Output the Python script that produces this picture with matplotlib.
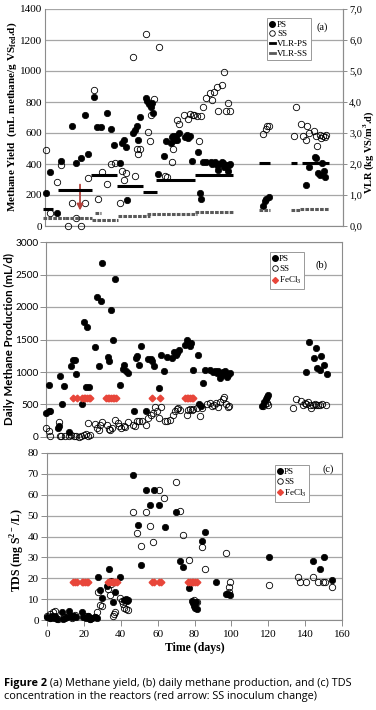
import matplotlib
matplotlib.use("Agg")
import matplotlib.pyplot as plt
from matplotlib.lines import Line2D
from matplotlib.transforms import Bbox, TransformedBbox

plt.rcParams['mathtext.fontset'] = 'custom'
plt.rcParams['mathtext.rm'] = 'Liberation Serif'
plt.rcParams['mathtext.bf'] = 'Liberation Serif:bold'

SERIF = 'Liberation Serif'
SANS = 'Lato'

#
# Panel (a): methane yield (mL methane/g VS fed.d) and VLR
a_ps_day = [0.5, 2.5, 6.3, 8.4, 14.3, 16.4, 19.3, 21.3, 23.2, 26.1, 27.9, 30.0, 33.3, 35.4, 37.2,
            40.2, 41.3, 42.4, 43.4, 44.2, 47.4, 48.5, 49.2, 50.2, 51.0, 54.0, 54.9, 55.8, 56.7, 57.2,
            58.1, 60.8, 63.8, 64.9, 67.6, 68.1, 68.8, 69.7, 70.6, 71.0, 72.1, 75.3, 76.0, 76.9, 77.8,
            78.9, 81.9, 83.0, 84.0, 84.9, 86.4, 88.9, 89.8, 91.2, 92.1, 92.8, 93.5, 94.8, 95.7, 96.2,
            97.4, 98.0, 98.9, 99.4, 116.8, 118.0, 118.9, 120.2, 140.4, 141.6, 144.8, 145.7, 146.6,
            147.9, 148.9, 149.7, 150.2]
a_ps_val = [213, 346, 84, 417, 644, 406, 440, 715, 462, 833, 636, 636, 730, 625, 522,
            404, 535, 558, 511, 165, 603, 618, 642, 558, 704, 827, 805, 784, 769, 794,
            728, 335, 451, 550, 537, 575, 580, 558, 580, 556, 601, 575, 584, 569, 580,
            417, 480, 215, 176, 412, 410, 412, 401, 412, 393, 361, 401, 412, 408, 380,
            395, 356, 393, 397, 129, 159, 176, 187, 264, 382, 444, 438, 344,
            326, 408, 354, 318]

a_ss_day = [0.5, 2.7, 6.3, 8.4, 12.3, 14.3, 16.4, 19.3, 21.5, 23.2, 26.1, 28.3, 30.4, 33.3, 35.4,
            37.5, 40.2, 41.3, 42.4, 43.4, 47.2, 48.3, 49.2, 50.2, 51.1, 54.0, 55.1, 56.3, 57.0, 58.3,
            61.0, 64.4, 65.4, 68.1, 68.8, 70.8, 71.7, 74.6, 76.9, 77.8, 79.2, 80.1, 81.4, 82.8, 83.7,
            84.6, 86.2, 88.5, 89.8, 90.8, 92.1, 93.0, 95.1, 96.0, 97.4, 98.0, 99.2, 116.8, 118.4, 119.4,
            120.3, 133.6, 134.6, 137.7, 138.6, 140.0, 140.7, 141.8, 144.3, 145.7, 146.3, 147.5, 148.4,
            149.3, 150.2, 150.7]
a_ss_val = [490, 86, 283, 391, 0, 146, 49, 0, 146, 309, 880, 172, 350, 268, 401,
            406, 148, 358, 298, 339, 1089, 320, 496, 462, 500, 1241, 605, 550, 715, 820,
            1155, 322, 316, 412, 494, 683, 659, 713, 693, 721, 719, 719, 708, 547, 708,
            766, 824, 855, 816, 863, 897, 745, 910, 992, 745, 792, 741, 595, 625, 648,
            648, 580, 766, 655, 580, 558, 648, 597, 612, 580, 515, 584, 565,
            580, 575, 584]

# VLR steps (kg VS/m3.d): start day, end day, level
vlr_ps_start = [-1, 7, 24.5, 38.8, 52.7, 59.4, 80.5, 115, 132, 138]
vlr_ps_end = [4.5, 25, 38.8, 52.7, 59.9, 80.8, 101, 121, 135.3, 152.5]
vlr_ps_val = [0.56, 1.15, 1.63, 1.29, 1.10, 1.49, 1.63, 2.04, 2.04, 2.04]

vlr_ss_start = [-1, 10.7, 25, 26.8, 39, 54.5, 80.5, 115, 132, 137]
vlr_ss_end = [10.7, 25, 39, 29.9, 56.3, 81.4, 100.7, 121, 137, 152.5]
vlr_ss_val = [0.25, 0.27, 0.19, 0.43, 0.32, 0.40, 0.45, 0.50, 0.50, 0.56]

arrow_day = 18.8

#
# Panel (b): daily methane production (mL/d)
b_ps_day = [0.2, 1.4, 2.3, 1.4, 6.3, 6.8, 7.4, 8.6, 9.5, 12.6, 13.5, 14.4, 15.5, 16.2, 19.6,
            20.3, 21.4, 23.2, 22.3, 26.3, 27.5, 28.4, 29.5, 30.4, 33.3, 34.2, 35.2, 36.1, 37.4, 40.1,
            41.4, 42.3, 43.2, 44.1, 47.3, 48.5, 49.4, 50.3, 51.2, 54.1, 55.4, 56.6, 57.5, 58.4, 61.1,
            62.2, 64.0, 65.3, 68.1, 69.2, 70.3, 71.0, 72.1, 75.2, 76.1, 76.9, 77.8, 78.4, 79.3, 82.2,
            82.9, 83.8, 85.0, 85.9, 88.6, 90.4, 91.3, 92.2, 93.1, 94.0, 94.9, 95.8, 96.7, 97.6, 98.5,
            99.4, 116.9, 117.8, 118.7, 119.6, 120.1, 140.8, 142.0, 144.9, 145.8, 146.7, 148.0, 148.9,
            150.1, 151.9]
b_ps_val = [369, 395, 405, 795, 138, 164, 944, 508, 779, 72, 1087, 1179, 1179, 969, 513,
            1764, 764, 764, 1687, 1385, 2154, 1097, 2092, 2677, 1231, 1164, 1949, 1487, 2431, 795,
            1046, 1103, 1010, 985, 395, 1215, 1251, 1103, 1405, 405, 1205, 1205, 1164, 1097, 754,
            1267, 1010, 1231, 1215, 1303, 1267, 1292, 1344, 1420, 1487, 1446, 1395, 1446, 1036, 1256,
            513, 470, 831, 1026, 1030, 1000, 1015, 990, 1020, 900, 960, 1000, 1010, 930, 960,
            990, 472, 538, 585, 615, 651, 995, 1467, 1210, 1369, 1062, 1036, 1251,
            1113, 969]

b_ss_day = [0.2, 1.4, 2.3, 6.8, 7.7, 8.3, 10.4, 12.4, 13.7, 14.9, 16.4, 17.6, 18.9, 20.3, 21.4,
            22.5, 23.6, 22.6, 26.3, 27.5, 28.4, 29.3, 30.2, 32.9, 33.8, 34.7, 35.6, 37.4, 38.7, 39.7,
            40.5, 41.9, 42.8, 44.1, 46.9, 48.1, 49.4, 50.5, 51.8, 54.1, 55.4, 56.6, 58.1, 59.0, 60.2,
            61.3, 62.0, 64.4, 65.6, 67.1, 68.5, 69.8, 70.7, 71.6, 72.5, 76.1, 76.9, 77.9, 78.8, 79.7,
            81.4, 83.2, 84.5, 87.2, 88.6, 89.5, 90.8, 91.9, 93.1, 94.0, 95.5, 96.4, 97.3, 98.2, 99.1,
            117.4, 118.3, 119.2, 120.1, 133.6, 135.0, 137.7, 139.0, 139.9, 140.8, 141.7, 142.6, 143.5,
            144.4, 145.3, 146.2, 147.1, 148.0, 149.4, 151.6]
b_ss_val = [133, 92, 10, 226, 10, 10, 10, 20, 30, 20, 15, 5, 10, 30, 50,
            20, 30, 215, 205, 138, 113, 190, 226, 190, 128, 113, 138, 267, 215, 164,
            138, 164, 149, 226, 190, 174, 251, 241, 241, 190, 292, 333, 369, 456, 405,
            292, 461, 241, 241, 267, 333, 395, 431, 441, 420, 344, 420, 431, 420, 431,
            446, 318, 446, 508, 523, 472, 487, 523, 456, 533, 584, 615, 508, 461, 472,
            472, 508, 523, 487, 446, 585, 549, 497, 523, 513, 538, 497, 446,
            487, 513, 497, 497, 487, 513, 497]

b_fe_day = [14.6, 16.7, 19.4, 20.3, 21.2, 22.1, 23.0, 23.9, 32.5, 33.4, 34.3, 35.2, 36.1, 37.0,
            37.9, 57.2, 61.7, 75.2, 76.1, 76.9, 77.9, 78.8, 79.7]
b_fe_level = 600

#
# Panel (c): TDS (mg S2-/L)
c_ps_day = [0.0, 1.5, 2.8, 3.7, 4.6, 5.5, 8.0, 8.9, 9.8, 10.7, 11.9, 12.9, 13.8, 14.8, 15.7,
            18.8, 19.7, 21.0, 22.0, 23.1, 24.4, 25.8, 27.0, 27.9, 29.0, 30.0, 32.4, 33.8, 34.6, 35.7,
            36.9, 39.6, 41.8, 42.7, 43.6, 44.2, 46.9, 49.1, 50.9, 53.8, 55.9, 58.1, 60.8, 64.1, 69.9,
            71.9, 74.0, 77.1, 78.9, 79.4, 79.8, 80.2, 80.7, 81.3, 84.0, 85.8, 91.8, 97.2, 98.1, 99.0,
            120.2, 144.3, 148.2, 150.0, 154.4]
c_ps_val = [1.3, 1.0, 2.0, 0.8, 1.8, 0.5, 3.7, 0.5, 0.8, 1.3, 4.2, 1.8, 1.3, 2.0, 1.3,
            3.7, 1.3, 1.0, 1.8, 0.5, 0.8, 1.3, 1.0, 20.8, 14.5, 10.4, 16.5, 24.4, 18.8, 8.5,
            13.3, 20.8, 9.7, 10.1, 9.3, 9.7, 69.5, 45.5, 26.4, 62.5, 55.1, 62.5, 55.1, 44.4, 51.6,
            28.4, 25.2, 15.3, 8.9, 8.0, 6.9, 5.6, 8.5, 5.3, 38.0, 42.3, 18.1, 12.5, 12.5, 12.1,
            30.4, 28.4, 24.4, 30.0, 19.2]

c_ss_day = [0.2, 1.6, 3.1, 4.3, 1.6, 6.2, 9.2, 11.6, 13.4, 14.3, 15.2, 21.2, 22.1, 23.4, 26.1,
            27.0, 27.7, 28.8, 29.7, 33.3, 34.2, 34.8, 35.7, 36.3, 36.9, 39.6, 40.5, 41.4, 41.8, 42.8,
            43.8, 46.9, 48.7, 50.9, 53.8, 55.9, 57.7, 60.8, 63.7, 69.7, 72.2, 74.0, 77.1, 79.8, 81.3,
            84.0, 85.8, 97.0, 98.5, 98.8, 99.4, 120.2, 135.9, 137.4, 140.5, 144.3, 147.0, 149.7, 151.0,
            154.6]
c_ss_val = [2.1, 2.9, 3.7, 4.2, 0.8, 0.5, 1.3, 1.8, 0.8, 2.1, 2.4, 1.8, 2.1, 0.5, 1.3,
            3.7, 13.3, 7.2, 6.5, 14.9, 12.0, 17.3, 1.8, 2.9, 3.7, 10.4, 8.9, 7.7, 5.6, 5.3,
            4.8, 51.6, 41.7, 35.6, 51.6, 44.9, 37.2, 62.5, 58.3, 66.0, 52.4, 40.7, 28.8, 9.7, 8.5,
            34.8, 24.4, 31.9, 15.7, 13.3, 18.4, 16.8, 20.4, 18.4, 18.4, 20.4, 18.4, 18.4, 18.4,
            15.7]

c_fe_day = [13.9, 15.0, 16.1, 18.8, 19.7, 20.6, 21.5, 22.4, 33.3, 34.2, 35.1, 36.0, 36.9, 37.8,
            56.8, 58.1, 60.5, 61.7, 76.4, 77.4, 78.4, 79.4, 80.3, 81.3]
c_fe_level = 18

caption_bold = "Figure 2"
caption_1 = " (a) Methane yield, (b) daily methane production, and (c) TDS"
caption_2 = "concentration in the reactors (red arrow: SS inoculum change)"

W, H = 376, 710
GRID = '#a6a6a6'
SPINE = '#8c8c8c'
RED = '#e8463a'
MS = 4.6


def px_axes(left, right, top, bottom):
    return [left / W, 1 - bottom / H, (right - left) / W, (bottom - top) / H]


def scatter_sets(ax, ps_d, ps_v, ss_d, ss_v):
    ax.plot(ss_d, ss_v, 'o', ms=MS, mfc='none', mec='black', mew=0.6, clip_on=False, zorder=3)
    ax.plot(ps_d, ps_v, 'o', ms=MS, mfc='black', mec='black', mew=0.5, clip_on=False, zorder=4)


def style_frame(ax, top=True):
    for side, sp in ax.spines.items():
        sp.set_color(SPINE)
        sp.set_linewidth(0.8)
    ax.spines['top'].set_visible(top)
    ax.set_axisbelow(True)
    ax.yaxis.grid(True, color=GRID, lw=0.9)
    ax.tick_params(axis='y', length=4, width=0.7, color=SPINE, pad=2)


fig = plt.figure(figsize=(W / 100, H / 100), dpi=100)

#
# (a)
ax_a = fig.add_axes(px_axes(45, 343, 9, 226))
scatter_sets(ax_a, a_ps_day, a_ps_val, a_ss_day, a_ss_val)
ax_a.set_xlim(0, 160)
ax_a.set_ylim(0, 1400)
ax_a.set_yticks(range(0, 1401, 200))
ax_a.set_xticks([])
style_frame(ax_a, top=False)
ax_a.tick_params(axis='y', length=0)
for t in ax_a.get_yticklabels():
    t.set_fontfamily(SERIF)
    t.set_fontsize(8)
ax_a.annotate('', xy=(arrow_day, 82), xytext=(arrow_day, 285),
              arrowprops=dict(arrowstyle='-|>', color='#b3413b', lw=1.3, mutation_scale=9),
              zorder=6)

ax_v = ax_a.twinx()
ax_v.set_ylim(0, 7)
ax_v.set_yticks(range(0, 8))
ax_v.set_yticklabels(['{:.1f}'.format(v).replace('.', ',') for v in range(0, 8)],
                     fontfamily=SERIF, fontsize=7.5)
ax_v.tick_params(axis='y', length=3, width=0.7, color=SPINE, pad=1.5)
for sp in ax_v.spines.values():
    sp.set_visible(False)
ax_v.spines['right'].set_visible(True)
ax_v.spines['right'].set_color(SPINE)
ax_v.hlines(vlr_ss_val, vlr_ss_start, vlr_ss_end, colors='#5a5a5a', lw=2.2,
            linestyles=(0, (1.2, 0.4)), clip_on=False, zorder=5)
ax_v.hlines(vlr_ps_val, vlr_ps_start, vlr_ps_end, colors='black', lw=2.2, clip_on=False, zorder=5)

leg_a = [Line2D([], [], ls='none', marker='o', ms=4, mfc='black', mec='black'),
         Line2D([], [], ls='none', marker='o', ms=4, mfc='none', mec='black', mew=0.6),
         Line2D([], [], color='black', lw=2),
         Line2D([], [], color='#5a5a5a', lw=2)]
lg = ax_v.legend(leg_a, ['PS', 'SS', 'VLR-PS', 'VLR-SS'], loc='upper left',
                 bbox_to_anchor=(0.745, 0.96), prop={'family': SERIF, 'size': 6.5},
                 frameon=True, fancybox=False, edgecolor='#999999', framealpha=1,
                 handlelength=0.6, handletextpad=0.2, labelspacing=0.15, borderpad=0.3,
                 borderaxespad=0)
lg.get_frame().set_linewidth(0.7)
ax_a.text(0.93, 0.915, '(a)', transform=ax_a.transAxes, ha='center', va='center',
          fontfamily=SERIF, fontsize=7.5)

fig.text(12 / W, 1 - 117 / H, r'Methane Yield  (mL methane/g VS$_\mathbf{fed}$.d)',
         rotation=90, ha='center', va='center', fontfamily=SERIF, fontweight='bold', fontsize=8)
fig.text(369 / W, 1 - 152 / H, r'VLR (kg VS/m$^\mathbf{3}$.d)', rotation=90, ha='center',
         va='center', fontfamily=SERIF, fontweight='bold', fontsize=7.5)

#
# (b)
ax_b = fig.add_axes(px_axes(46, 342, 242, 437))
scatter_sets(ax_b, b_ps_day, b_ps_val, b_ss_day, b_ss_val)
ax_b.plot(b_fe_day, [b_fe_level] * len(b_fe_day), 'D', ms=3.4, color=RED, mec=RED, zorder=5)
ax_b.set_xlim(0, 160)
ax_b.set_ylim(0, 3000)
ax_b.set_yticks(range(0, 3001, 500))
ax_b.set_xticks([])
style_frame(ax_b)
ax_b.tick_params(axis='y', length=4, pad=1.5)
for t in ax_b.get_yticklabels():
    t.set_fontfamily(SANS)
    t.set_fontsize(7.3)

leg_b = [Line2D([], [], ls='none', marker='o', ms=4, mfc='black', mec='black'),
         Line2D([], [], ls='none', marker='o', ms=4, mfc='none', mec='black', mew=0.6),
         Line2D([], [], ls='none', marker='D', ms=3, color=RED)]
lg = ax_b.legend(leg_b, ['PS', 'SS', 'FeCl$_3$'], loc='upper left',
                 bbox_to_anchor=(0.757, 0.95), prop={'family': SERIF, 'size': 6.5},
                 frameon=True, fancybox=False, edgecolor='#999999', framealpha=1,
                 handlelength=0.5, handletextpad=0.2, labelspacing=0.2, borderpad=0.3,
                 borderaxespad=0)
lg.get_frame().set_linewidth(0.7)
ax_b.text(0.932, 0.882, '(b)', transform=ax_b.transAxes, ha='center', va='center',
          fontfamily=SERIF, fontsize=7.5)

lab_b = fig.text(9 / W, 1 - 425 / H, 'Daily Methane Production (mL/d)', rotation=90,
                 ha='center', va='bottom', fontfamily=SANS, fontweight='bold', fontsize=8.3)
lab_b.set_clip_on(True)
lab_b.set_clip_box(TransformedBbox(Bbox.from_extents(0, 0, 1, 1 - 240 / H), fig.transFigure))

#
# (c)
ax_c = fig.add_axes(px_axes(47, 342, 453, 620))
scatter_sets(ax_c, c_ps_day, c_ps_val, c_ss_day, c_ss_val)
ax_c.plot(c_fe_day, [c_fe_level] * len(c_fe_day), 'D', ms=3.4, color=RED, mec=RED, zorder=5)
ax_c.set_xlim(0, 160)
ax_c.set_ylim(0, 80)
ax_c.set_yticks(range(0, 81, 10))
ax_c.set_xticks(range(0, 161, 20))
style_frame(ax_c)
ax_c.tick_params(axis='x', length=4, width=0.7, color=SPINE, pad=3)
for t in ax_c.get_yticklabels() + ax_c.get_xticklabels():
    t.set_fontfamily(SERIF)
    t.set_fontsize(8)
ax_c.set_xlabel('Time (days)', fontfamily=SERIF, fontweight='bold', fontsize=8.5, labelpad=2)

lg = ax_c.legend(leg_b, ['PS', 'SS', 'FeCl$_3$'], loc='upper left',
                 bbox_to_anchor=(0.773, 0.93), prop={'family': SERIF, 'size': 6.5},
                 frameon=True, fancybox=False, edgecolor='#999999', framealpha=1,
                 handlelength=0.5, handletextpad=0.2, labelspacing=0.2, borderpad=0.3,
                 borderaxespad=0)
lg.get_frame().set_linewidth(0.7)
ax_c.text(0.953, 0.904, '(c)', transform=ax_c.transAxes, ha='center', va='center',
          fontfamily=SERIF, fontsize=7.5)
fig.text(18 / W, 1 - 550 / H, r'TDS (mg S$^\mathbf{2-}$/L)', rotation=90, ha='center',
         va='center', fontfamily=SERIF, fontweight='bold', fontsize=8.5)

#
# Caption
cap = fig.text(4 / W, 1 - 686 / H, caption_bold, fontfamily='Open Sans', fontweight='bold',
               fontsize=7.8, va='baseline', ha='left')
fig.canvas.draw()
bb = cap.get_window_extent()
fig.text(bb.x1 / W, 1 - 686 / H, caption_1, fontfamily='Open Sans', fontsize=7.8,
         va='baseline', ha='left')
fig.text(4 / W, 1 - 699 / H, caption_2, fontfamily='Open Sans', fontsize=7.8,
         va='baseline', ha='left')

fig.savefig('out.png', dpi=100)
